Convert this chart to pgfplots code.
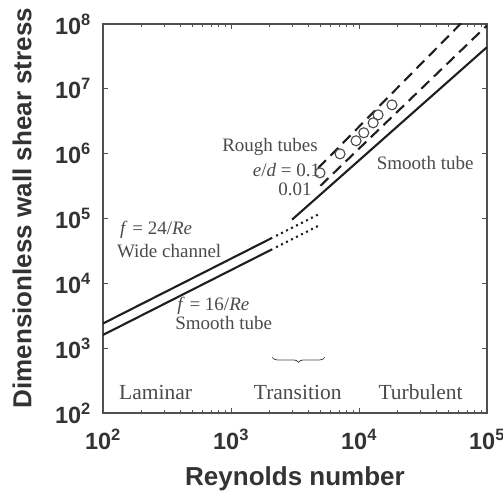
\documentclass[border=0pt]{standalone}
\usepackage{pgfplots}
\pgfplotsset{compat=1.18}
\usepackage{fontspec}
\setmainfont{Liberation Serif}
\setsansfont{Liberation Sans}
\usetikzlibrary{decorations.pathreplacing}
\definecolor{ink}{HTML}{1E1E1E}
\definecolor{txt}{HTML}{333333}
\definecolor{frame}{HTML}{505050}
\definecolor{ann}{HTML}{4A4A4A}
\newcommand\tickfont{\sffamily\bfseries\fontsize{23.5}{25}\selectfont}
\newcommand\labfont{\sffamily\bfseries\fontsize{26}{28}\selectfont}
\newcommand\annfont{\rmfamily\fontsize{19}{21}\selectfont}
\newcommand\regfont{\rmfamily\fontsize{21.5}{24}\selectfont}
\begin{document}
\begin{tikzpicture}
\useasboundingbox (-103pt,-79pt) rectangle (400pt,413pt);
\begin{axis}[
  scale only axis, width=384pt, height=389pt,
  xmode=log, ymode=log,
  xmin=1e2, xmax=1e5, ymin=1e2, ymax=1e8,
  axis line style={frame, line width=1.4pt},
  tick align=inside, major tick length=5pt, minor tick length=3pt,
  every tick/.style={frame, line width=0.8pt},
  yminorticks=false,
  xtick={1e2,1e3,1e4,1e5},
  xticklabels={10\textsuperscript{2},10\textsuperscript{3},10\textsuperscript{4},10\textsuperscript{5}},
  ytick={1e2,1e3,1e4,1e5,1e6,1e7,1e8},
  yticklabels={10\textsuperscript{2},10\textsuperscript{3},10\textsuperscript{4},10\textsuperscript{5},10\textsuperscript{6},10\textsuperscript{7},10\textsuperscript{8}},
  xticklabel style={font=\tickfont, text=txt, inner sep=0pt, anchor=north, yshift=-16pt},
  yticklabel style={font=\tickfont, text=txt, inner sep=0pt, anchor=east, xshift=-12pt},
  xlabel={Reynolds number},
  ylabel={Dimensionless wall shear stress},
  xlabel style={font=\labfont, text=txt, at={(axis description cs:0.5,-0.170)}, anchor=center},
  ylabel style={font=\labfont, text=txt, at={(axis description cs:-0.211,0.527)}, anchor=center},
]
% laminar
\addplot[ink, line width=2.1pt] coordinates {(100,2400) (2100,50400)};
\addplot[ink, line width=2.1pt] coordinates {(100,1600) (2100,33600)};
% transition (dotted)
\addplot[ink, line width=2.1pt, dash pattern=on 2pt off 3.6pt] coordinates {(2250,54000) (5000,120000)};
\addplot[ink, line width=2.1pt, dash pattern=on 2pt off 3.6pt] coordinates {(2250,36000) (5000,80000)};
% turbulent smooth
\addplot[ink, line width=2.1pt] coordinates {(3000,96000) (100000,44000000)};
% rough tubes
\addplot[ink, line width=2.1pt, dash pattern=on 11pt off 6.5pt] coordinates {(4800,600000) (100000,260000000)};
\addplot[ink, line width=2.1pt, dash pattern=on 11pt off 6.5pt] coordinates {(5000,320000) (100000,95000000)};
% data points
\addplot[only marks, mark=o, mark size=5pt, mark options={ann, line width=1.1pt, fill=white}] coordinates {
(4955,506000) (7110,993000) (9480,1580000) (10900,2100000) (12900,2990000) (14100,3970000) (18100,5660000)};
% brace
\draw[decorate, decoration={brace, mirror, amplitude=5pt}, ann, line width=0.8pt] (axis cs:2100,720) -- (axis cs:5400,720);
% annotations
\node[font=\annfont, text=ann] at (rel axis cs:0.435,0.684) {Rough tubes};
\node[font=\annfont, text=ann, anchor=east, inner sep=0pt] at (rel axis cs:0.566,0.625) {\textit{e}/\textit{d} = 0.1};
\node[font=\annfont, text=ann, anchor=east, inner sep=0pt] at (rel axis cs:0.544,0.576) {0.01};
\node[font=\annfont, text=ann] at (rel axis cs:0.839,0.643) {Smooth tube};
\node[font=\annfont, text=ann, anchor=west, inner sep=0pt] at (rel axis cs:0.044,0.470) {\textit{f} = 24/\textit{Re}};
\node[font=\annfont, text=ann, anchor=west, inner sep=0pt] at (rel axis cs:0.036,0.416) {Wide channel};
\node[font=\annfont, text=ann, anchor=west, inner sep=0pt] at (rel axis cs:0.193,0.275) {\textit{f} = 16/\textit{Re}};
\node[font=\annfont, text=ann, anchor=west, inner sep=0pt] at (rel axis cs:0.188,0.231) {Smooth tube};
\node[font=\regfont, text=ann] at (rel axis cs:0.137,0.054) {Laminar};
\node[font=\regfont, text=ann] at (rel axis cs:0.507,0.054) {Transition};
\node[font=\regfont, text=ann] at (rel axis cs:0.827,0.054) {Turbulent};
\end{axis}
\end{tikzpicture}
\end{document}
